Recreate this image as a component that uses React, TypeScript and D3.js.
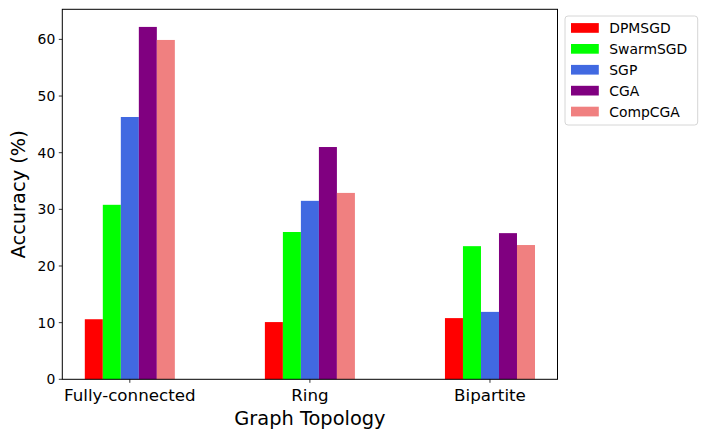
import React, { useEffect } from "react";
import * as d3 from "d3";

const topologies = ["Fully-connected", "Ring", "Bipartite"];
const methods = ["DPMSGD", "SwarmSGD", "SGP", "CGA", "CompCGA"];
const colors = ["#ff0000", "#00ff00", "#4169e1", "#800080", "#f08080"];

// accuracy per method, one value per topology
const dpmsgd = [10.6, 10.1, 10.8];
const swarmsgd = [30.8, 26.0, 23.5];
const sgp = [46.3, 31.5, 11.9];
const cga = [62.2, 41.0, 25.8];
const compcga = [59.9, 32.9, 23.7];

const series = [dpmsgd, swarmsgd, sgp, cga, compcga];
const yTicks = [0, 10, 20, 30, 40, 50, 60];

const W = 707;
const H = 438;
const margin = { left: 62.3, right: 557.5, top: 9.3, bottom: 379.3 };
const barWidth = 0.1;

const FONT = "DejaVu Sans, sans-serif";

const App: React.FC = () => {
  useEffect(() => {
    document.body.style.margin = "0";
  }, []);

  const maxVal = d3.max(series.flat())!;
  const x = d3
    .scaleLinear()
    .domain([-0.375, topologies.length - 1 + 0.375])
    .range([margin.left, margin.right]);
  const y = d3
    .scaleLinear()
    .domain([0, maxVal * 1.05])
    .range([margin.bottom, margin.top]);

  const n = methods.length;
  const legendX = 565;
  const legendY = 16;
  const rowH = 20.9;

  return (
    <svg width={W} height={H} style={{ display: "block", fontFamily: FONT }}>
      <rect width={W} height={H} fill="#fff" />

      {/* bars */}
      {series.map((vals, i) =>
        vals.map((v, j) => {
          const cx = j + (i - (n - 1) / 2) * barWidth;
          const x0 = x(cx - barWidth / 2);
          const x1 = x(cx + barWidth / 2);
          return (
            <rect
              key={`${i}-${j}`}
              x={x0}
              y={y(v)}
              width={x1 - x0}
              height={y(0) - y(v)}
              fill={colors[i]}
            />
          );
        })
      )}

      {/* axes frame */}
      <rect
        x={margin.left}
        y={margin.top}
        width={margin.right - margin.left}
        height={margin.bottom - margin.top}
        fill="none"
        stroke="#000"
        strokeWidth={1}
      />

      {/* y ticks */}
      {yTicks.map(t => (
        <g key={t}>
          <line
            x1={margin.left - 3.5}
            x2={margin.left}
            y1={y(t)}
            y2={y(t)}
            stroke="#000"
            strokeWidth={0.8}
          />
          <text
            x={margin.left - 7}
            y={y(t)}
            dy="0.36em"
            textAnchor="end"
            fontSize={13.9}
            fill="#000"
          >
            {t}
          </text>
        </g>
      ))}

      {/* x ticks */}
      {topologies.map((name, j) => (
        <g key={name}>
          <line
            x1={x(j)}
            x2={x(j)}
            y1={margin.bottom}
            y2={margin.bottom + 3.5}
            stroke="#000"
            strokeWidth={0.8}
          />
          <text
            x={x(j)}
            y={400.6}
            textAnchor="middle"
            fontSize={16.7}
            fill="#000"
          >
            {name}
          </text>
        </g>
      ))}

      {/* axis labels */}
      <text
        x={(margin.left + margin.right) / 2}
        y={425.3}
        textAnchor="middle"
        fontSize={19.4}
        fill="#000"
      >
        Graph Topology
      </text>
      <text
        transform={`translate(25.3, ${(margin.top + margin.bottom) / 2}) rotate(-90)`}
        textAnchor="middle"
        fontSize={19.4}
        fill="#000"
      >
        Accuracy (%)
      </text>

      {/* legend */}
      <rect
        x={legendX}
        y={legendY}
        width={132.7}
        height={109}
        rx={3}
        fill="#fff"
        fillOpacity={0.8}
        stroke="#d6d6d6"
        strokeWidth={1}
      />
      {methods.map((m, i) => {
        const cy = 28 + i * rowH;
        return (
          <g key={m}>
            <rect x={571} y={cy - 4.9} width={27.8} height={9.7} fill={colors[i]} />
            <text x={609.3} y={cy} dy="0.36em" fontSize={13.9} fill="#000">
              {m}
            </text>
          </g>
        );
      })}
    </svg>
  );
};

export default App;
